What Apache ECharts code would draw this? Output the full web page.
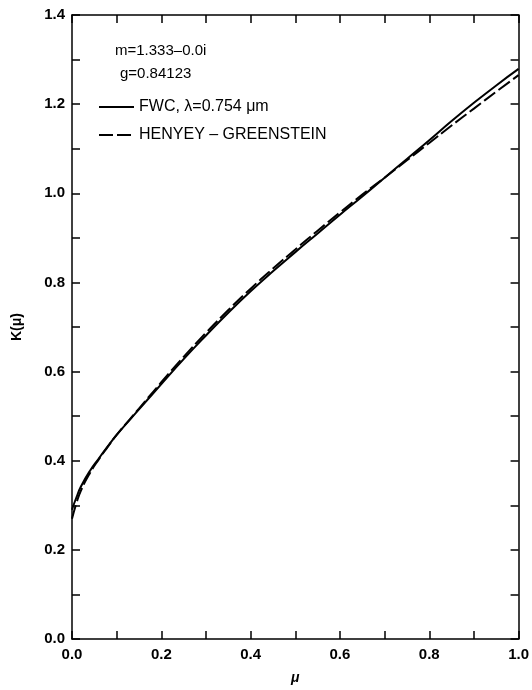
<!DOCTYPE html>
<html>
<head>
<meta charset="utf-8">
<script src="https://cdn.jsdelivr.net/npm/echarts@6/dist/echarts.min.js"></script>
<style>
  html, body { margin: 0; padding: 0; background: #fff; }
  #chart { width: 532px; height: 690px; }
</style>
</head>
<body>
<div id="chart"></div>
<script>
// Cosine of the zenith angle
const mu = [0, 0.01, 0.02, 0.04, 0.06, 0.08, 0.10, 0.15, 0.20, 0.25, 0.30, 0.35, 0.40,
            0.45, 0.50, 0.55, 0.60, 0.65, 0.70, 0.75, 0.80, 0.85, 0.90, 0.95, 1.00];
// K(mu) for the fair-weather cumulus phase function
const kFwc = [0.290, 0.318, 0.342, 0.377, 0.405, 0.432, 0.458, 0.515, 0.572, 0.628, 0.681,
              0.732, 0.780, 0.825, 0.868, 0.910, 0.952, 0.993, 1.035, 1.077, 1.119, 1.162,
              1.203, 1.242, 1.279];
// K(mu) for the Henyey-Greenstein phase function
const kHg = [0.270, 0.305, 0.333, 0.372, 0.403, 0.431, 0.458, 0.517, 0.576, 0.633, 0.687,
             0.738, 0.786, 0.831, 0.874, 0.916, 0.957, 0.997, 1.035, 1.074, 1.113, 1.152,
             1.190, 1.228, 1.265];
const seriesNames = ['FWC, \u03bb=0.754 \u03bcm', 'HENYEY \u2013 GREENSTEIN'];
const noteLines = ['m=1.333\u20130.0i', 'g=0.84123'];

const FONT = '"Liberation Sans", Arial, Helvetica, sans-serif';
const tickLabel = v => (Math.round(v * 10) % 2 === 0 ? v.toFixed(1) : '');

// Shared frame style: black box with inward ticks every 0.1
const frameAxis = {
  type: 'value', min: 0, interval: 0.1,
  axisLine: { show: true, onZero: false, lineStyle: { color: '#000', width: 1.5 } },
  axisTick: { show: true, inside: true, length: 8, lineStyle: { color: '#000', width: 1.5 } },
  splitLine: { show: false }
};

const chart = echarts.init(document.getElementById('chart'));
chart.setOption({
  animation: false,
  backgroundColor: '#fff',
  grid: { left: 72, right: 10, top: 15, bottom: 45 },
  xAxis: [
    Object.assign({}, frameAxis, {
      max: 1.0, position: 'bottom',
      name: '\u03bc', nameLocation: 'middle', nameGap: 32,
      nameTextStyle: { fontFamily: FONT, fontSize: 14, fontWeight: 'bold', fontStyle: 'italic', color: '#000' },
      axisLabel: { formatter: tickLabel, margin: 8, color: '#000', fontFamily: FONT, fontSize: 15, fontWeight: 'bold' }
    }),
    Object.assign({}, frameAxis, { max: 1.0, position: 'top', axisLabel: { show: false } })
  ],
  yAxis: [
    Object.assign({}, frameAxis, {
      max: 1.4, position: 'left',
      name: 'K(\u03bc)', nameLocation: 'middle', nameGap: 48, nameRotate: 90,
      nameTextStyle: { fontFamily: FONT, fontSize: 14, fontWeight: 'bold', color: '#000' },
      axisLabel: { formatter: tickLabel, margin: 7, color: '#000', fontFamily: FONT, fontSize: 15, fontWeight: 'bold' }
    }),
    Object.assign({}, frameAxis, { max: 1.4, position: 'right', axisLabel: { show: false } })
  ],
  legend: {
    orient: 'vertical', left: 98, top: 99, padding: 0,
    itemWidth: 35, itemHeight: 14, itemGap: 12,
    itemStyle: { opacity: 0 },
    textStyle: { fontFamily: FONT, fontSize: 16, color: '#000' },
    data: seriesNames
  },
  graphic: [
    { type: 'text', left: 115, top: 43, style: { text: noteLines[0], font: '15px ' + FONT, fill: '#000' } },
    { type: 'text', left: 120, top: 66, style: { text: noteLines[1], font: '15px ' + FONT, fill: '#000' } }
  ],
  series: [
    {
      name: seriesNames[0], type: 'line', symbol: 'none', smooth: true,
      data: mu.map((m, i) => [m, kFwc[i]]),
      lineStyle: { color: '#000', width: 2, type: 'solid' },
      itemStyle: { color: '#000' }
    },
    {
      name: seriesNames[1], type: 'line', symbol: 'none', smooth: true,
      data: mu.map((m, i) => [m, kHg[i]]),
      lineStyle: { color: '#000', width: 2, type: [14, 4] },
      itemStyle: { color: '#000' }
    }
  ]
});
</script>
</body>
</html>
